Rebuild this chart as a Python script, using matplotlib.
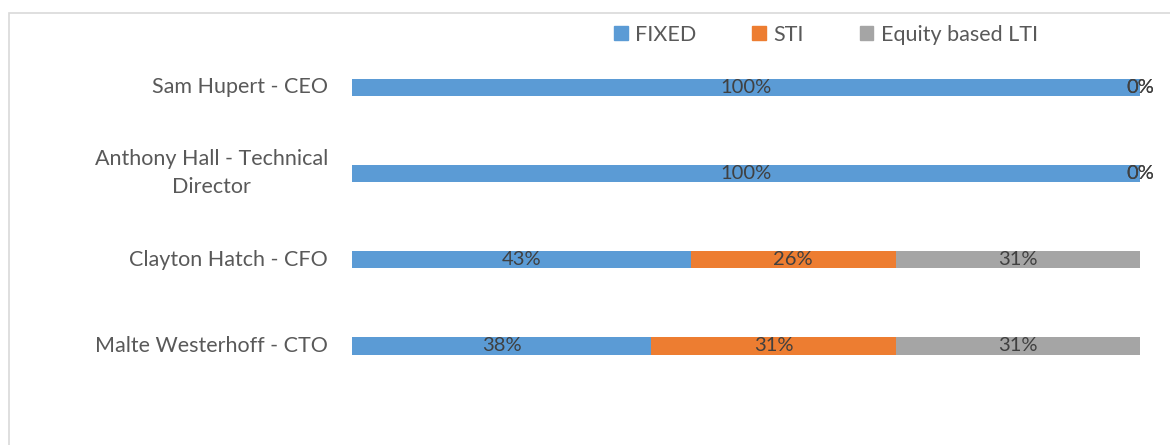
import matplotlib.pyplot as plt
from matplotlib.patches import Rectangle, Patch
from matplotlib.transforms import ScaledTranslation, blended_transform_factory
import numpy as np

# people (top to bottom) and their pay mix
names = ["Sam Hupert - CEO", "Anthony Hall - Technical\nDirector",
         "Clayton Hatch - CFO", "Malte Westerhoff - CTO"]
fixed = [1.00, 1.00, 0.43, 0.38]
sti = [0.00, 0.00, 0.26, 0.31]
lti = [0.00, 0.00, 0.31, 0.31]
series_names = ["FIXED", "STI", "Equity based LTI"]
colors = ["#5B9BD5", "#ED7D31", "#A5A5A5"]

plt.rcParams['font.family'] = ['Lato', 'DejaVu Sans']

W, H = 1170, 445
fig = plt.figure(figsize=(W / 100, H / 100), dpi=100)

# chart area border, runs off the right and bottom edges
fig.patches.append(Rectangle((9 / W, -0.05), 1.1, 1 - 13 / H + 0.05,
                             transform=fig.transFigure, fill=False,
                             edgecolor="#D9D9D9", linewidth=1.2))

top_px, bot_px = 44, 389
ax = fig.add_axes([352 / W, 1 - bot_px / H, (1140 - 352) / W, (bot_px - top_px) / H])

y = np.arange(len(names))
left = np.zeros(len(names))
for vals, c in zip([fixed, sti, lti], colors):
    vals = np.array(vals)
    ax.barh(y, vals, left=left, height=0.2, color=c)
    for yi, l, v in zip(y, left, vals):
        ax.text(l + v / 2, yi, f"{round(v * 100):.0f}%", ha="center", va="center",
                fontsize=14.5, color="#404040")
    left = left + vals

ax.set_xlim(0, 1)
ax.set_ylim(len(names) - 0.5, -0.5)
ax.set_xticks([])
ax.set_yticks([])
for s in ax.spines.values():
    s.set_visible(False)

# category labels as plain text, right aligned left of the bars
trans = blended_transform_factory(ax.transAxes, ax.transData)
for yi, name in zip(y, names):
    ax.text(0, yi, name, ha="right", va="center", multialignment="center",
            linespacing=1.5, fontsize=15.5, color="#595959",
            transform=trans + ScaledTranslation(-24 / 100, 0, fig.dpi_scale_trans))

handles = [Patch(color=c) for c in colors]
fig.legend(handles, series_names, loc="center", bbox_to_anchor=(826 / W, 1 - 35 / H),
           ncol=3, frameon=False, fontsize=15.5, labelcolor="#595959",
           handlelength=0.62, handleheight=0.62, handletextpad=0.35, columnspacing=2.6)

fig.savefig("out.png", dpi=100)
